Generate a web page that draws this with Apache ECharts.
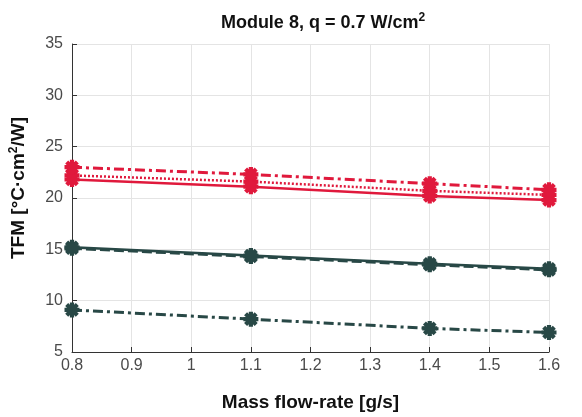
<!DOCTYPE html>
<html>
<head>
<meta charset="utf-8">
<script src="https://cdn.jsdelivr.net/npm/echarts@6/dist/echarts.min.js"></script>
<style>html,body{margin:0;padding:0;background:#fff}#c{width:582px;height:417px}</style>
</head>
<body>
<div id="c"></div>
<script>
var flowRates = [0.8, 1.1, 1.4, 1.6];
var redDashDot = [23.0, 22.3, 21.4, 20.8];
var redDotted = [22.2, 21.6, 20.7, 20.3];
var redSolid = [21.8, 21.1, 20.2, 19.8];
var darkSolid = [15.2, 14.4, 13.6, 13.1];
var darkDashed = [15.1, 14.3, 13.5, 13.0];
var darkDashDot = [9.1, 8.2, 7.3, 6.9];

var RED = '#e0193c';
var DARK = '#284846';
var FONT = 'Liberation Sans, Arial';
var asterisk = 'path://M-1.4,-5 L1.4,-5 L1.4,5 L-1.4,5 Z M-5,-1.4 L5,-1.4 L5,1.4 L-5,1.4 Z M2.54,-4.53 L4.53,-2.54 L-2.54,4.53 L-4.53,2.54 Z M-4.53,-2.54 L-2.54,-4.53 L4.53,2.54 L2.54,4.53 Z';

function pairs(vals){ return flowRates.map(function(x,i){ return [x, vals[i]]; }); }
function mk(vals, color, type, width){
  return {
    type: 'line', data: pairs(vals), symbol: asterisk, symbolSize: 15,
    showAllSymbol: true,
    itemStyle: {color: color},
    lineStyle: {color: color, width: width, type: type},
    animation: false
  };
}
var supRich = {s: {fontFamily: FONT, fontSize: 12, fontWeight: 'bold', verticalAlign: 'top', padding: [0,0,10,0], color: '#111'}};

var chart = echarts.init(document.getElementById('c'));
chart.setOption({
  animation: false,
  title: {
    text: 'Module 8, q = 0.7 W/cm{s|2}',
    left: 318, top: 7, textAlign: 'center',
    textStyle: {fontFamily: FONT, fontSize: 18, fontWeight: 'bold', color: '#111', rich: supRich}
  },
  grid: {left: 71, right: 33, top: 44, bottom: 60},
  xAxis: {
    type: 'value', min: 0.8, max: 1.6, interval: 0.1,
    name: 'Mass flow-rate [g/s]', nameLocation: 'middle', nameGap: 41,
    nameTextStyle: {fontFamily: FONT, fontSize: 19, fontWeight: 'bold', color: '#111'},
    axisLine: {lineStyle: {color: '#333', width: 1}},
    axisTick: {inside: true, length: 5, lineStyle: {color: '#333'}},
    axisLabel: {fontFamily: FONT, fontSize: 16, color: '#4a4a4a', margin: 6,
      formatter: function(v){ var r = Math.round(v*10)/10; return String(r); }},
    splitLine: {show: true, lineStyle: {color: '#e4e4e4'}}
  },
  yAxis: {
    type: 'value', min: 5, max: 35, interval: 5,
    name: 'TFM [°C·cm{s|2}/W]', nameLocation: 'middle', nameGap: 42, nameRotate: 90,
    nameTextStyle: {fontFamily: FONT, fontSize: 19, fontWeight: 'bold', color: '#111', rich: supRich,
      padding: [0, 0, 0, 20]},
    axisLine: {show: true, lineStyle: {color: '#333', width: 1}},
    axisTick: {show: true, inside: true, length: 5, lineStyle: {color: '#333'}},
    axisLabel: {fontFamily: FONT, fontSize: 16, color: '#4a4a4a', margin: 9},
    splitLine: {show: true, lineStyle: {color: '#e4e4e4'}}
  },
  series: [
    mk(redDotted, RED, [2, 2], 2.5),
    mk(redSolid, RED, 'solid', 2.5),
    mk(redDashDot, RED, [10, 4, 3, 4], 3),
    mk(darkDashed, DARK, [10, 4], 3),
    mk(darkSolid, DARK, 'solid', 2.5),
    mk(darkDashDot, DARK, [10, 4, 3, 4], 3)
  ]
});
</script>
</body>
</html>
